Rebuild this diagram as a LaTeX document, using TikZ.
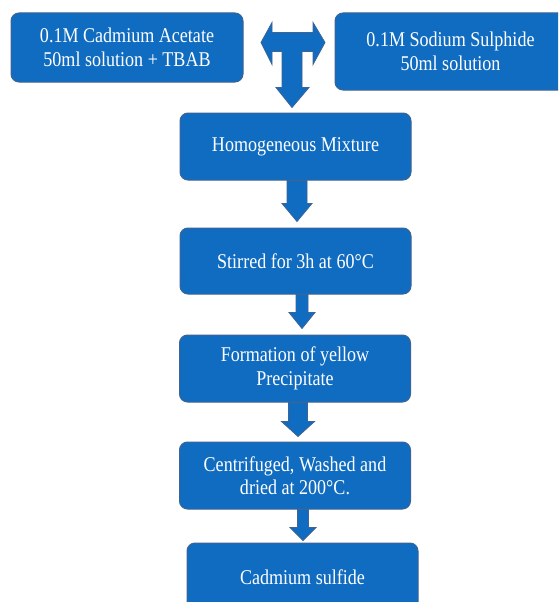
\documentclass[tikz,border=0pt]{standalone}
\usepackage{fontspec}
\setmainfont[FakeStretch=0.86]{Liberation Serif}
\usetikzlibrary{calc}
\definecolor{boxblue}{RGB}{16,108,192}
\definecolor{boxedge}{RGB}{62,100,148}
\newcommand\dnarrow[7]{%
  \path[arrowfill] let \p1=(#1.south), \p2=(#2.north) in
    (\x1+#3-#4,\y1) -- (\x1+#3-#4,\y2+#7+#6) -- (\x1+#3-#5,\y2+#7+#6) --
    (\x1+#3,\y2+#7) -- (\x1+#3+#5,\y2+#7+#6) -- (\x1+#3+#4,\y2+#7+#6) --
    (\x1+#3+#4,\y1) -- cycle;}
\begin{document}
\begin{tikzpicture}[x=1pt,y=-1pt,
  stepbox/.style={draw=boxedge, line width=1pt, fill=boxblue, rounded corners=8pt,
    text=white, align=center, font=\fontsize{21}{23.5}\selectfont,
    minimum width=231pt, minimum height=67pt, inner sep=0pt},
  arrowfill/.style={draw=boxedge, line width=0.8pt, fill=boxblue, line join=miter}]
\useasboundingbox (0,0) rectangle (558,602);
\clip (0,0) rectangle (558,602);
\node[stepbox, minimum width=232pt, minimum height=69pt] (n1) at (127,47.5)
  {0.1M Cadmium Acetate\\50ml solution + TBAB};
\node[stepbox, minimum height=77pt] (n2) at (450.5,51.5)
  {0.1M Sodium Sulphide\\50ml solution};
\node[stepbox] (n3) at (295.5,146.5) {Homogeneous Mixture};
\node[stepbox, minimum height=66pt] (n4) at (295.5,261) {Stirred for 3h at 60°C};
\node[stepbox] (n5) at (295,368.5) {Formation of yellow\\Precipitate};
\node[stepbox] (n6) at (295,475.5) {Centrifuged, Washed and\\dried at 200°C.};
\node[stepbox, minimum height=68pt] (n7) at (302.5,577) {Cadmium sulfide};
% T-shaped junction arrow
\coordinate (ttip) at ($(n3.north)+(-3.5,-5)$);
\path[arrowfill, shift={(ttip)}]
  (0,0) -- (-16,-20) -- (-10,-20) -- (-10,-56) -- (-20,-56) -- (-20,-43) --
  (-31,-65) -- (-20,-85) -- (-20,-75) -- (21,-75) -- (21,-85) -- (33,-65) --
  (21,-43) -- (21,-56) -- (10,-56) -- (10,-20) -- (17,-20) -- cycle;
% block arrows between steps
\dnarrow{n3}{n4}{1.5pt}{10pt}{15pt}{18pt}{6pt}
\dnarrow{n4}{n5}{6.5pt}{6pt}{13pt}{16pt}{6pt}
\dnarrow{n5}{n6}{3pt}{9.5pt}{16.5pt}{15pt}{5pt}
\dnarrow{n6}{n7}{8pt}{5.5pt}{13pt}{13pt}{2pt}
\end{tikzpicture}
\end{document}
